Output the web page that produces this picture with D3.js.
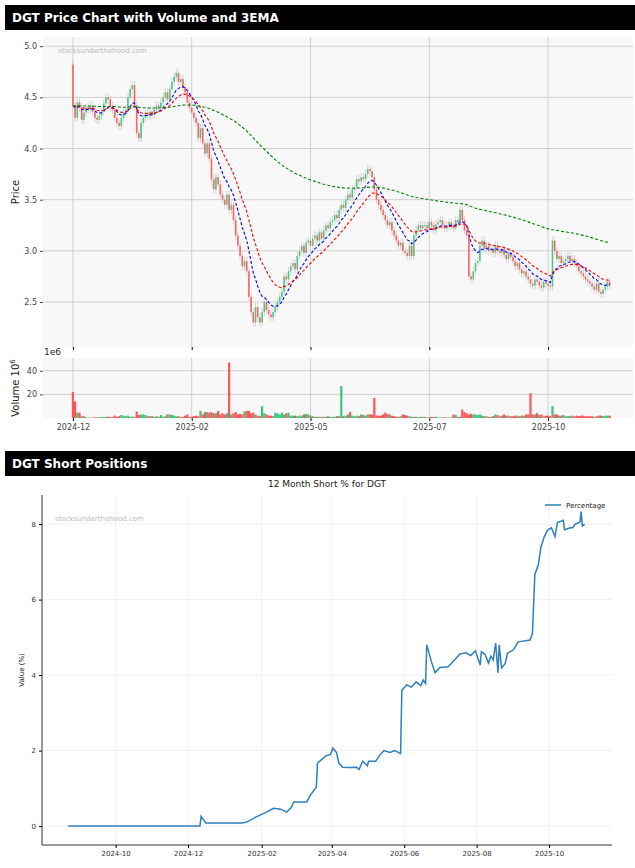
<!DOCTYPE html>
<html><head><meta charset="utf-8">
<script src="https://cdn.jsdelivr.net/npm/d3@7"></script>
<style>
body{margin:0;background:#fff;font-family:"DejaVu Sans",sans-serif;}
svg text{font-family:"DejaVu Sans",sans-serif;}
</style></head>
<body><svg id="c" width="635" height="868"></svg>
<script>
'use strict';

// ---- price data (one value per trading day) ----
var closes = [
  4.42,4.30,4.45,4.40,4.28,4.35,4.40,4.38,4.42,4.36,
  4.30,4.28,4.32,4.36,4.44,4.50,4.48,4.42,4.38,4.30,
  4.25,4.22,4.30,4.35,4.38,4.50,4.58,4.62,4.42,4.15,
  4.10,4.25,4.30,4.35,4.32,4.36,4.33,4.38,4.42,4.40,
  4.45,4.50,4.55,4.48,4.58,4.65,4.70,4.74,4.65,4.68,
  4.60,4.55,4.45,4.40,4.35,4.30,4.25,4.10,4.20,4.05,
  3.95,4.05,3.90,3.70,3.60,3.72,3.65,3.55,3.50,3.45,
  3.55,3.40,3.45,3.30,3.15,3.05,2.95,2.85,2.90,2.80,
  2.55,2.40,2.30,2.45,2.35,2.30,2.40,2.50,2.42,2.38,
  2.35,2.40,2.45,2.50,2.55,2.60,2.75,2.72,2.80,2.85,
  2.88,2.82,2.95,3.00,3.05,2.98,3.08,3.10,3.05,3.12,
  3.15,3.10,3.18,3.12,3.20,3.25,3.22,3.28,3.30,3.35,
  3.32,3.40,3.45,3.42,3.50,3.55,3.52,3.60,3.62,3.70,
  3.68,3.72,3.70,3.75,3.80,3.78,3.72,3.60,3.50,3.45,
  3.40,3.35,3.30,3.25,3.28,3.20,3.15,3.10,3.05,3.08,
  3.00,2.98,2.95,3.05,2.95,3.15,3.20,3.25,3.22,3.25,
  3.25,3.22,3.28,3.25,3.20,3.26,3.28,3.30,3.25,3.22,
  3.25,3.28,3.25,3.22,3.30,3.28,3.40,3.30,3.20,3.15,
  2.75,2.72,2.80,2.88,2.90,3.05,3.10,3.02,3.05,3.00,
  3.02,2.98,3.05,3.00,2.98,3.02,2.96,2.92,2.98,2.94,
  2.90,2.85,2.88,2.82,2.78,2.80,2.75,2.72,2.68,2.66,
  2.72,2.70,2.66,2.64,2.70,2.68,2.66,2.65,3.10,3.00,
  2.92,2.95,2.88,2.90,2.92,2.95,2.90,2.92,2.88,2.85,
  2.80,2.78,2.75,2.72,2.70,2.68,2.65,2.62,2.68,2.60,
  2.58,2.62,2.65,2.70,2.66
];
var firstOpen = 4.82;

// volume in millions
var volumes = [
  22,14,4.5,4.5,1.5,1.5,0.5,0.3,0.3,0.5,
  0.5,0.5,0.8,1,0.8,1,1.2,0.8,1,2,
  1,1.5,2.5,2,1.5,2,1,1.2,1,5.5,
  2.5,3,3,2.5,1.5,1.5,1.5,1,1.5,1,
  2.5,1,1.5,3,3,2.5,2,1.5,1.5,1,
  1,2,3,1,1,1.5,2,1.5,6,3,
  5,5,4.5,5,4,4,6,3,4,3,
  4,47,3,4,5,3,3.5,3,5.5,6,
  6,4,4.5,3,2,1.5,10,4,3,2,
  2,1.5,4.5,4,3,4.5,3,4,4.5,2,
  2,2,1.5,2,2,3,3.5,3,2,1.5,
  1,1,1,1,1,1,1.5,1,1,1,
  1.5,1.5,27,1.5,2,3,5,2,1.5,2,
  1.5,3,2.5,2,3,3,3,17,2,2,
  2,3,4.5,3.5,3,2,1.5,1,1,1.5,
  3,2.5,2,1.5,1,1,1,0.8,1,1,
  1,0.5,0.5,1,0.8,1,0.5,0.5,0.5,0.5,
  0.5,0.5,0.5,3,2.5,1,1,7,5,4,
  3,3.5,3,3,2.5,3,2,1.5,1.5,1,
  1,1.5,3,2.5,1.5,2,3,2,2,1.5,
  1.5,2,2,1.5,2,2,3,3,21,3,
  3,4,2.5,3,1.5,2,2,1.5,10,3,
  3,2,2,2.5,1.5,1.5,1.5,2,1.5,2,
  1.5,2,2,1.5,1.5,1.5,1.5,1,1.5,2,
  2,1.5,2,2,2
];

var tickLabels = ["2024-12", "2025-02", "2025-05", "2025-07", "2025-10"];
var tickEvery = 54;
var emaSpans = [10, 20, 150];
var emaColors = ["blue", "red", "green"];

// ---- short interest data ----
var shortDates = [
  "2024-08-22","2024-12-11","2024-12-12","2024-12-16","2025-01-15","2025-01-19","2025-01-27",
  "2025-02-05","2025-02-11","2025-02-17","2025-02-22","2025-02-26","2025-02-28","2025-03-11",
  "2025-03-14","2025-03-19","2025-03-20","2025-03-27","2025-03-31","2025-04-02","2025-04-05",
  "2025-04-07","2025-04-10","2025-04-15","2025-04-22","2025-04-24","2025-04-27","2025-05-01",
  "2025-05-02","2025-05-08","2025-05-12","2025-05-15","2025-05-20","2025-05-24","2025-05-29",
  "2025-05-30","2025-06-03","2025-06-07","2025-06-11","2025-06-15","2025-06-17","2025-06-19",
  "2025-06-20","2025-06-24","2025-06-27","2025-07-01","2025-07-08","2025-07-11","2025-07-18",
  "2025-07-23","2025-07-27","2025-07-31","2025-08-04","2025-08-05","2025-08-08","2025-08-11",
  "2025-08-13","2025-08-15","2025-08-17","2025-08-19","2025-08-20","2025-08-22","2025-08-25",
  "2025-08-27","2025-09-01","2025-09-05","2025-09-09","2025-09-15","2025-09-17","2025-09-19",
  "2025-09-22","2025-09-24","2025-09-27","2025-09-30","2025-10-03","2025-10-06","2025-10-08",
  "2025-10-13","2025-10-14","2025-10-19","2025-10-21","2025-10-23","2025-10-27","2025-10-28",
  "2025-10-29","2025-10-31"
];
var shortValues = [
  0.0,0.0,0.26,0.08,0.08,0.10,0.24,
  0.37,0.47,0.45,0.37,0.50,0.64,0.64,
  0.82,1.03,1.67,1.86,1.90,2.07,1.95,
  1.67,1.56,1.55,1.56,1.50,1.72,1.60,
  1.72,1.72,1.90,2.00,1.95,2.00,1.92,
  3.60,3.74,3.68,3.82,3.72,3.87,3.78,
  4.80,4.35,4.06,4.20,4.22,4.32,4.56,
  4.59,4.52,4.64,4.27,4.62,4.55,4.32,
  4.50,4.40,4.85,4.06,4.80,4.19,4.30,
  4.58,4.67,4.88,4.90,4.93,5.10,6.66,
  6.92,7.37,7.67,7.85,7.90,7.67,8.04,
  8.10,7.85,7.90,7.90,8.00,8.05,8.33,
  7.95,8.00
];

var svg = d3.select("#c");
var upColor = "#3cc47c", downColor = "#ff5555";

// header bars
function header(y, text) {
  svg.append("rect").attr("x", 5).attr("y", y).attr("width", 630).attr("height", 25).attr("fill", "#000");
  svg.append("text").attr("x", 12).attr("y", y + 17).attr("fill", "#fff")
    .attr("font-size", 12).attr("font-weight", "bold").text(text);
}
header(5, "DGT Price Chart with Volume and 3EMA");
header(451, "DGT Short Positions");

// ---- candles ----
var bars = closes.map(function(c, i) {
  var o = i === 0 ? firstOpen : closes[i - 1];
  return { i: i, o: o, c: c, v: volumes[i] };
});

function ema(vals, span) {
  var a = 2 / (span + 1), out = [], prev = vals[0];
  vals.forEach(function(v, i) { prev = i === 0 ? v : a * v + (1 - a) * prev; out.push(prev); });
  return out;
}

var pL = 43, pR = 633, pT = 37, pB = 347, vT = 358, vB = 418;
var x = d3.scaleLinear().domain([-13.6, 254.6]).range([pL, pR]);
var y = d3.scaleLinear().domain([2.06, 5.09]).range([pB, pT]);
var yv = d3.scaleLinear().domain([0, 50.8]).range([vB, vT]);
var tickIdx = tickLabels.map(function(d, k) { return k * tickEvery; });

function panel(t, b, ys, ticks) {
  svg.append("rect").attr("x", pL).attr("y", t).attr("width", pR - pL).attr("height", b - t).attr("fill", "#f8f8f8");
  var g = svg.append("g");
  g.selectAll(".gx").data(tickIdx).enter().append("line")
    .attr("x1", function(d) { return x(d); }).attr("x2", function(d) { return x(d); })
    .attr("y1", t).attr("y2", b).attr("stroke", "#d0d0d0");
  g.selectAll(".gy").data(ticks).enter().append("line")
    .attr("x1", pL).attr("x2", pR)
    .attr("y1", function(d) { return ys(d); }).attr("y2", function(d) { return ys(d); })
    .attr("stroke", "#d0d0d0");
  var ax = svg.append("g").attr("transform", "translate(" + pL + ",0)")
    .call(d3.axisLeft(ys).tickValues(ticks).tickSize(3).tickFormat(ticks[0] === 20 ? d3.format("d") : d3.format(".1f")));
  ax.select(".domain").remove();
  ax.selectAll("text").attr("font-size", 8).attr("fill", "#444");
  ax.selectAll("line").attr("stroke", "#444");
}
panel(pT, pB, y, [2.5, 3.0, 3.5, 4.0, 4.5, 5.0]);
panel(vT, vB, yv, [20, 40]);

svg.append("text").attr("x", 58).attr("y", 53).attr("font-size", 7).attr("fill", "#bbb").text("stocksunderthehood.com");

var bw = 1.6;
var cg = svg.append("g");
cg.selectAll(".wick").data(bars).enter().append("line")
  .attr("x1", function(d) { return x(d.i); }).attr("x2", function(d) { return x(d.i); })
  .attr("y1", function(d) { return y(Math.max(d.o, d.c) + 0.04); })
  .attr("y2", function(d) { return y(Math.min(d.o, d.c) - 0.04); })
  .attr("stroke", "#cccccc").attr("stroke-width", 0.8);
cg.selectAll(".body").data(bars).enter().append("rect")
  .attr("x", function(d) { return x(d.i) - bw / 2; }).attr("width", bw)
  .attr("y", function(d) { return y(Math.max(d.o, d.c)); })
  .attr("height", function(d) { return Math.max(0.8, Math.abs(y(d.o) - y(d.c))); })
  .attr("fill", function(d) { return d.c >= d.o ? upColor : downColor; })
  .attr("opacity", 0.9);

emaSpans.forEach(function(s, k) {
  var e = ema(closes, s);
  svg.append("path").datum(e)
    .attr("d", d3.line().x(function(d, i) { return x(i); }).y(function(d) { return y(d); }))
    .attr("fill", "none").attr("stroke", emaColors[k]).attr("stroke-width", 1.1)
    .attr("stroke-dasharray", "3,2");
});

svg.append("g").selectAll("rect").data(bars).enter().append("rect")
  .attr("x", function(d) { return x(d.i) - 1.1; }).attr("width", 2.2)
  .attr("y", function(d) { return yv(d.v); })
  .attr("height", function(d) { return vB - yv(d.v); })
  .attr("fill", function(d) { return d.c >= d.o ? upColor : downColor; });

// bottom x axis and small ticks under price panel
var xa = svg.append("g").attr("transform", "translate(0," + vB + ")")
  .call(d3.axisBottom(x).tickValues(tickIdx).tickSize(3).tickFormat(function(d, k) { return tickLabels[k]; }));
xa.select(".domain").remove();
xa.selectAll("text").attr("font-size", 8).attr("fill", "#444");
var xa2 = svg.append("g").attr("transform", "translate(0," + pB + ")")
  .call(d3.axisBottom(x).tickValues(tickIdx).tickSize(3).tickFormat(""));
xa2.select(".domain").remove();

svg.append("text").attr("transform", "translate(19,192) rotate(-90)").attr("text-anchor", "middle")
  .attr("font-size", 10).attr("fill", "#222").text("Price");
var vl = svg.append("text").attr("transform", "translate(19,388) rotate(-90)").attr("text-anchor", "middle")
  .attr("font-size", 10).attr("fill", "#222");
vl.append("tspan").text("Volume  10");
vl.append("tspan").attr("font-size", 7).attr("dy", -4).text("6");
svg.append("text").attr("x", 44).attr("y", 355).attr("font-size", 9).attr("fill", "#222").text("1e6");

// ---- short positions ----
var parse = d3.timeParse("%Y-%m-%d");
var shorts = shortDates.map(function(d, i) { return { d: parse(d), v: shortValues[i] }; });
var sL = 42, sR = 612, sT = 495, sB = 845;
var sx = d3.scaleTime().domain([parse("2024-07-31"), parse("2025-11-23")]).range([sL, sR]);
var sy = d3.scaleLinear().domain([-0.5, 8.77]).range([sB, sT]);
var xt = ["2024-10-01","2024-12-01","2025-02-01","2025-04-01","2025-06-01","2025-08-01","2025-10-01"].map(parse);
var yt = [0, 2, 4, 6, 8];

var sg = svg.append("g");
sg.selectAll(".sgx").data(xt).enter().append("line")
  .attr("x1", function(d) { return sx(d); }).attr("x2", function(d) { return sx(d); })
  .attr("y1", sT).attr("y2", sB).attr("stroke", "#f0f0f0");
sg.selectAll(".sgy").data(yt).enter().append("line")
  .attr("x1", sL).attr("x2", sR)
  .attr("y1", function(d) { return sy(d); }).attr("y2", function(d) { return sy(d); })
  .attr("stroke", "#f0f0f0");

var sxa = svg.append("g").attr("transform", "translate(0," + sB + ")")
  .call(d3.axisBottom(sx).tickValues(xt).tickSize(3).tickFormat(d3.timeFormat("%Y-%m")));
sxa.select(".domain").attr("d", "M" + sL + ",0H" + sR).attr("stroke", "#333");
sxa.selectAll("text").attr("font-size", 7).attr("fill", "#333");
var sya = svg.append("g").attr("transform", "translate(" + sL + ",0)")
  .call(d3.axisLeft(sy).tickValues(yt).tickSize(3).tickFormat(d3.format("d")));
sya.select(".domain").attr("d", "M0," + sT + "V" + sB).attr("stroke", "#333");
sya.selectAll("text").attr("font-size", 7).attr("fill", "#333");

svg.append("path").datum(shorts)
  .attr("d", d3.line().x(function(d) { return sx(d.d); }).y(function(d) { return sy(d.v); }))
  .attr("fill", "none").attr("stroke", "#2f7fbd").attr("stroke-width", 1.5);

svg.append("text").attr("x", 327).attr("y", 487).attr("text-anchor", "middle")
  .attr("font-size", 9).attr("fill", "#222").text("12 Month Short % for DGT");
svg.append("text").attr("transform", "translate(24,670) rotate(-90)").attr("text-anchor", "middle")
  .attr("font-size", 7).attr("fill", "#222").text("Value (%)");
svg.append("text").attr("x", 55).attr("y", 521).attr("font-size", 7).attr("fill", "#bbb").text("stocksunderthehood.com");
svg.append("line").attr("x1", 545).attr("x2", 561).attr("y1", 505).attr("y2", 505)
  .attr("stroke", "#2f7fbd").attr("stroke-width", 1.5);
svg.append("text").attr("x", 566).attr("y", 508).attr("font-size", 7).attr("fill", "#222").text("Percentage");
</script></body></html>
